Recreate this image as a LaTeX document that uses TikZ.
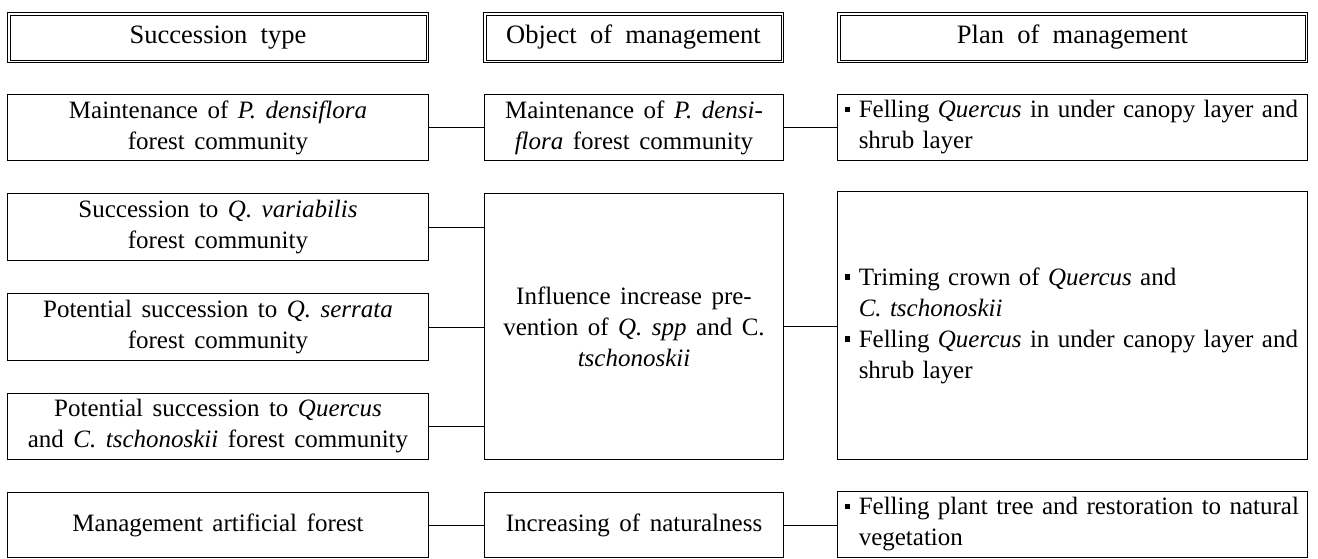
\documentclass[tikz,border=0pt]{standalone}
\usepackage{fontspec}
\setmainfont{Liberation Serif}
\usetikzlibrary{positioning,calc}

\newcommand{\bodyfont}{\fontsize{25}{31}\selectfont\spaceskip=0.38em plus 0.2em minus 0.05em\relax}
\newcommand{\headfont}{\fontsize{26.5}{32}\selectfont\spaceskip=0.5em\relax}
\newcommand{\planfont}{\fontsize{25}{31}\selectfont\spaceskip=0.3em plus 0.3em minus 0.06em\relax}
\newcommand{\sqbul}{\rule[0.22em]{0.22em}{0.22em}\hspace{0.35em}}
\newcommand{\hang}{\hspace*{0.57em}}
\newcommand{\fullline}[1]{\makebox[440pt][s]{#1}}

\tikzset{
    box/.style={draw, line width=1pt, anchor=north west, inner sep=0pt,
        align=center, font=\bodyfont},
    headbox/.style={box, font=\headfont},
    planbox/.style={box, align=left, inner xsep=7pt, inner ysep=0pt,
        text width=456pt, font=\planfont},
    link/.style={line width=1pt}
}

\begin{document}
\begin{tikzpicture}[x=1pt, y=-1pt]
    \useasboundingbox (0,0) rectangle (1318,558);

    % Headers (double frame)
    \node[headbox, minimum width=421, minimum height=50] (hsucc) at (7,12) {Succession type};
    \node[headbox, minimum width=300, minimum height=50] (hobj) at (483,12) {Object of management};
    \node[headbox, minimum width=470, minimum height=50] (hplan) at (837,12) {Plan of management};
    \foreach \h in {hsucc,hobj,hplan}
        \draw[link] ($(\h.north west)+(3,3)$) rectangle ($(\h.south east)+(-3,-3)$);

    % Succession types
    \node[box, minimum width=421, minimum height=66] (s1) at (7,94)
        {Maintenance of \textit{P. densiflora}\\ forest community};
    \node[box, minimum width=421, minimum height=67] (s2) at (7,193)
        {Succession to \textit{Q. variabilis}\\ forest community};
    \node[box, minimum width=421, minimum height=67] (s3) at (7,293)
        {Potential succession to \textit{Q. serrata}\\ forest community};
    \node[box, minimum width=421, minimum height=66] (s4) at (7,393)
        {Potential succession to \textit{Quercus}\\ and \textit{C. tschonoskii} forest community};
    \node[box, minimum width=421, minimum height=65] (s5) at (7,492)
        {Management artificial forest};

    % Objects of management
    \node[box, minimum width=299, minimum height=66] (o1) at (484,94)
        {Maintenance of \textit{P. densi-}\\ \textit{flora} forest community};
    \node[box, minimum width=299, minimum height=266] (o2) at (484,193)
        {Influence increase pre-\\ vention of \textit{Q. spp} and C.\\ \textit{tschonoskii}};
    \node[box, minimum width=299, minimum height=65] (o3) at (484,492)
        {Increasing of naturalness};

    % Plans of management
    \node[planbox, minimum height=66] (p1) at (837,94)
        {\sqbul\fullline{Felling \textit{Quercus} in under canopy layer and}\\ \hang shrub layer};
    \node[planbox, minimum height=268] (p2) at (837,191)
        {\sqbul Triming crown of \textit{Quercus} and\\ \hang \textit{C. tschonoskii}\\
         \sqbul\fullline{Felling \textit{Quercus} in under canopy layer and}\\ \hang shrub layer};
    \node[planbox, minimum height=66] (p3) at (837,491)
        {\sqbul\fullline{Felling plant tree and restoration to natural}\\ \hang vegetation};

    % Connectors
    \draw[link] (s1.east) -- (o1.west);
    \draw[link] (o1.east) -- (p1.west |- o1.east);
    \foreach \s in {s2,s3,s4}
        \draw[link] (\s.east) -- (\s.east -| o2.west);
    \draw[link] (o2.east) -- (o2.east -| p2.west);
    \draw[link] (s5.east) -- (o3.west);
    \draw[link] (o3.east) -- (o3.east -| p3.west);
\end{tikzpicture}
\end{document}
